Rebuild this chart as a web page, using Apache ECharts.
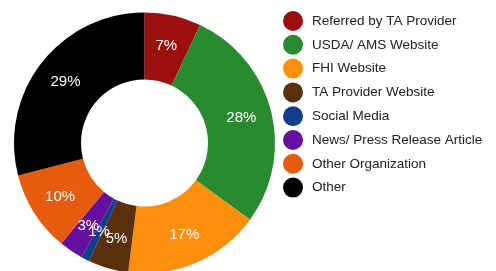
<!DOCTYPE html>
<html><head><meta charset="utf-8">
<script src="https://cdn.jsdelivr.net/npm/echarts@6/dist/echarts.min.js"></script>
<style>html,body{margin:0;padding:0;background:#fff}#c{width:496px;height:271px}</style>
</head><body><div id="c"></div>
<script>
const categories = ["Referred by TA Provider","USDA/ AMS Website","FHI Website","TA Provider Website","Social Media","News/ Press Release Article","Other Organization","Other"];
const values = [7,28,17,5,1,3,10,29];
const colors = ["#9b0f0f","#2a8a30","#ff8f0c","#5a2f0c","#123d8a","#660f9e","#e65b0d","#000000"];
const chart = echarts.init(document.getElementById('c'));
chart.setOption({
  animation:false,
  color: colors,
  legend:{
    orient:'vertical', left:283, top:11, padding:0, icon:'circle', itemWidth:20, itemHeight:20, itemGap:3.8,
    textStyle:{fontFamily:'Liberation Sans, Arial', fontSize:13.5, color:'#222', padding:[0,0,0,4]},
    data: categories
  },
  series:[{
    type:'pie', center:[144.5,143], radius:[63.5,130.5], startAngle:90, clockwise:true,
    avoidLabelOverlap:false, minShowLabelAngle:0,
    labelLayout:{hideOverlap:false},
    label:{show:true, position:'inside', formatter:'{c}%', color:'#fff', fontFamily:'Liberation Sans, Arial', fontSize:15},
    labelLine:{show:false},
    itemStyle:{borderWidth:0},
    emphasis:{disabled:true},
    data: categories.map((n,i)=>({name:n, value:values[i]}))
  }]
});
</script></body></html>
